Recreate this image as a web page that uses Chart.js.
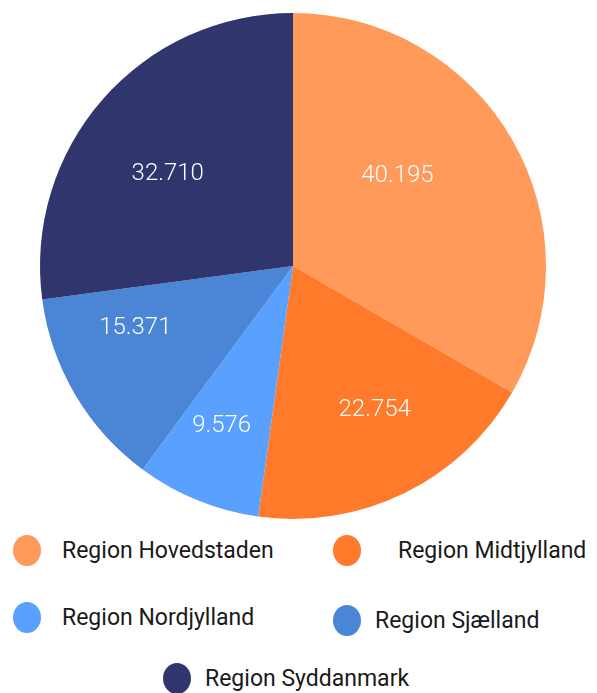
<!doctype html>
<html lang="da">
  <head>
    <meta charset="UTF-8" />
    <title>Regioner</title>
    <script src="https://cdn.jsdelivr.net/npm/chart.js"></script>
    <style>
      html, body { margin: 0; padding: 0; background: #fff; }
      body { width: 597px; height: 693px; position: relative; overflow: hidden; font-family: Roboto, 'Noto Sans', sans-serif; }
      .chart-box { position: absolute; left: 0; top: 0; width: 597px; height: 530px; }
      .legend-item { position: absolute; display: flex; align-items: center; font-size: 23px; color: #1a1a1a; white-space: nowrap; }
      .legend-item .dot { width: 28px; height: 31px; border-radius: 50%; display: inline-block; }
    </style>
  </head>
  <body>
    <div class="chart-box">
      <canvas id="pieChart"></canvas>
    </div>
    <div id="legend"></div>

    <script>
      const regions = ['Region Hovedstaden', 'Region Midtjylland', 'Region Nordjylland', 'Region Sjælland', 'Region Syddanmark']
      const counts = [40195, 22754, 9576, 15371, 32710]
      const colors = ['#ff9a5a', '#ff7a2a', '#5aa0ff', '#4a85d6', '#31356e']

      // label nudges (px) relative to slice mid-angle point
      const labelNudge = [[-27, -14], [15, 8], [-14, 19], [-27, -15], [-11, 8]]

      // legend placement: dot left, dot centre y, text gap
      const legendPos = [
        { x: 13, y: 550, gap: 21 },
        { x: 333, y: 550, gap: 37 },
        { x: 13, y: 617, gap: 21 },
        { x: 333, y: 620, gap: 14 },
        { x: 163, y: 678, gap: 14 },
      ]

      const fmt = (v) => v.toLocaleString('da-DK')

      const sliceLabels = {
        id: 'sliceLabels',
        afterDatasetsDraw(chart) {
          const ctx = chart.ctx
          const meta = chart.getDatasetMeta(0)
          ctx.save()
          ctx.fillStyle = '#ffffff'
          ctx.font = '300 24px Roboto'
          ctx.textAlign = 'center'
          ctx.textBaseline = 'middle'
          meta.data.forEach((arc, i) => {
            const p = arc.getProps(['x', 'y', 'startAngle', 'endAngle', 'outerRadius'], true)
            const mid = (p.startAngle + p.endAngle) / 2
            const r = p.outerRadius * 0.6
            const x = p.x + Math.cos(mid) * r + labelNudge[i][0]
            const y = p.y + Math.sin(mid) * r + labelNudge[i][1]
            ctx.fillText(fmt(counts[i]), x, y)
          })
          ctx.restore()
        },
      }

      new Chart(document.getElementById('pieChart'), {
        type: 'pie',
        data: {
          labels: regions,
          datasets: [
            {
              data: counts,
              backgroundColor: colors,
              borderWidth: 0,
            },
          ],
        },
        options: {
          responsive: true,
          maintainAspectRatio: false,
          animation: false,
          layout: { padding: { left: 40, right: 51, top: 13, bottom: 11 } },
          plugins: {
            legend: { display: false },
            tooltip: { enabled: false },
          },
        },
        plugins: [sliceLabels],
      })

      const legend = document.getElementById('legend')
      regions.forEach((name, i) => {
        const item = document.createElement('div')
        item.className = 'legend-item'
        item.style.left = legendPos[i].x + 'px'
        item.style.top = legendPos[i].y - 16 + 'px'
        item.style.height = '32px'
        const dot = document.createElement('span')
        dot.className = 'dot'
        dot.style.background = colors[i]
        dot.style.marginRight = legendPos[i].gap + 'px'
        const txt = document.createElement('span')
        txt.textContent = name
        item.appendChild(dot)
        item.appendChild(txt)
        legend.appendChild(item)
      })
    </script>
  </body>
</html>
